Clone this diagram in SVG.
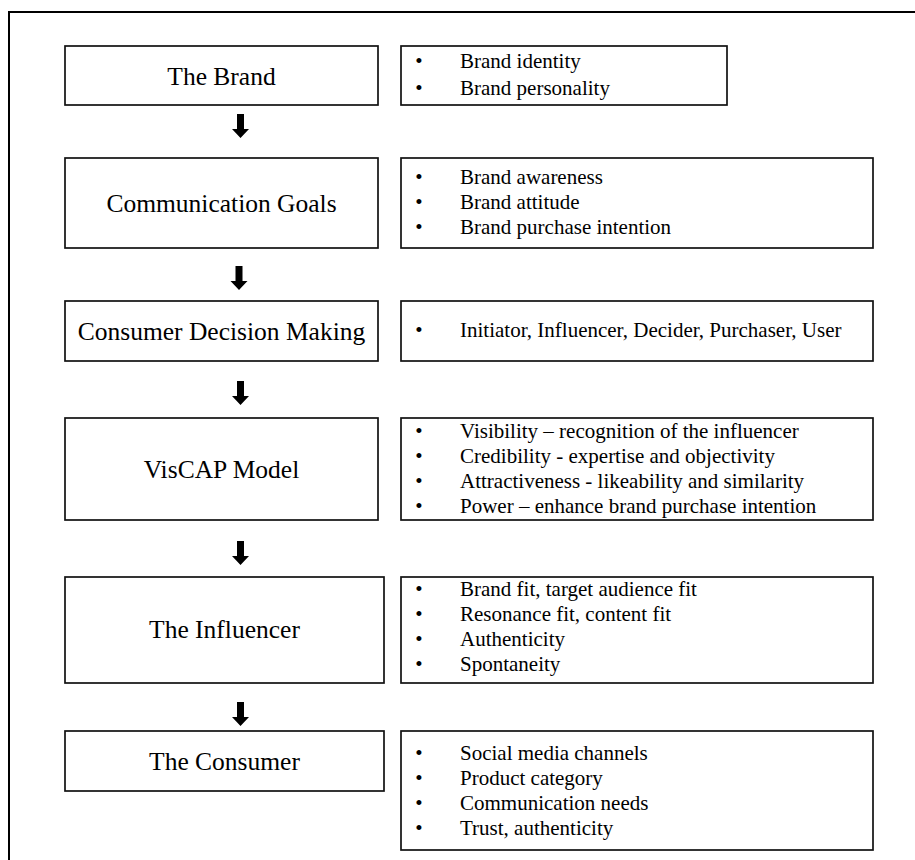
<svg xmlns="http://www.w3.org/2000/svg" xmlns:xlink="http://www.w3.org/1999/xlink" width="915" height="860" viewBox="0 0 915 860">
<style>
.frame{fill:none;stroke:#000;stroke-width:2}
.box{fill:#fff;stroke:#111;stroke-width:1.7}
.title{font-family:"Liberation Serif","Times New Roman",serif;font-size:25.5px;fill:#000;text-anchor:middle}
.item{font-family:"Liberation Serif","Times New Roman",serif;font-size:21px;fill:#000}
.bul{font-family:"Liberation Serif","Times New Roman",serif;font-size:21px;fill:#000;text-anchor:middle}
.arrow{fill:#000}
</style>
<defs>
<path id="arr" d="M-3.5,-24 H3.5 V-9 H8.5 L0,0 L-8.5,-9 H-3.5 Z"/>
</defs>
<rect width="915" height="860" fill="#fff"/>
<rect class="frame" x="9" y="12" width="1000" height="1000"/>

<g id="brand">
<rect class="box" x="65" y="46" width="313" height="59"/>
<text class="title" x="221.5" y="84.5">The Brand</text>
</g>
<g id="brand-list">
<rect class="box" x="401" y="46" width="326" height="59"/>
<text class="bul" x="419" y="68">•</text><text class="item" x="460" y="68">Brand identity</text>
<text class="bul" x="419" y="95">•</text><text class="item" x="460" y="95">Brand personality</text>
</g>

<g id="goals">
<rect class="box" x="65" y="158" width="313" height="90"/>
<text class="title" x="221.5" y="212">Communication Goals</text>
</g>
<g id="goals-list">
<rect class="box" x="401" y="158" width="472" height="90"/>
<text class="bul" x="419" y="184">•</text><text class="item" x="460" y="184">Brand awareness</text>
<text class="bul" x="419" y="209">•</text><text class="item" x="460" y="209">Brand attitude</text>
<text class="bul" x="419" y="234">•</text><text class="item" x="460" y="234">Brand purchase intention</text>
</g>

<g id="decision">
<rect class="box" x="65" y="301" width="313" height="60"/>
<text class="title" x="221.5" y="340">Consumer Decision Making</text>
</g>
<g id="decision-list">
<rect class="box" x="401" y="301" width="472" height="60"/>
<text class="bul" x="419" y="337">•</text><text class="item" x="460" y="337">Initiator, Influencer,  Decider, Purchaser, User</text>
</g>

<g id="viscap">
<rect class="box" x="65" y="418" width="313" height="102"/>
<text class="title" x="221.5" y="478">VisCAP Model</text>
</g>
<g id="viscap-list">
<rect class="box" x="401" y="418" width="472" height="102"/>
<text class="bul" x="419" y="438">•</text><text class="item" x="460" y="438">Visibility – recognition of the influencer</text>
<text class="bul" x="419" y="463">•</text><text class="item" x="460" y="463">Credibility - expertise and objectivity</text>
<text class="bul" x="419" y="488">•</text><text class="item" x="460" y="488">Attractiveness - likeability and similarity</text>
<text class="bul" x="419" y="513">•</text><text class="item" x="460" y="513">Power – enhance brand purchase intention</text>
</g>

<g id="influencer">
<rect class="box" x="65" y="577" width="319" height="106"/>
<text class="title" x="224.5" y="638">The Influencer</text>
</g>
<g id="influencer-list">
<rect class="box" x="401" y="577" width="472" height="106"/>
<text class="bul" x="419" y="596">•</text><text class="item" x="460" y="596">Brand fit, target audience fit</text>
<text class="bul" x="419" y="621">•</text><text class="item" x="460" y="621">Resonance fit, content fit</text>
<text class="bul" x="419" y="646">•</text><text class="item" x="460" y="646">Authenticity</text>
<text class="bul" x="419" y="671">•</text><text class="item" x="460" y="671">Spontaneity</text>
</g>

<g id="consumer">
<rect class="box" x="65" y="731" width="319" height="60"/>
<text class="title" x="224.5" y="770">The Consumer</text>
</g>
<g id="consumer-list">
<rect class="box" x="401" y="731" width="472" height="119"/>
<text class="bul" x="419" y="760">•</text><text class="item" x="460" y="760">Social media channels</text>
<text class="bul" x="419" y="785">•</text><text class="item" x="460" y="785">Product category</text>
<text class="bul" x="419" y="810">•</text><text class="item" x="460" y="810">Communication needs</text>
<text class="bul" x="419" y="835">•</text><text class="item" x="460" y="835">Trust, authenticity</text>
</g>

<g id="connectors" class="arrow">
<use xlink:href="#arr" x="240.5" y="138"/>
<use xlink:href="#arr" x="239" y="290"/>
<use xlink:href="#arr" x="240.5" y="405"/>
<use xlink:href="#arr" x="240.5" y="565"/>
<use xlink:href="#arr" x="240.5" y="726"/>
</g>
</svg>
